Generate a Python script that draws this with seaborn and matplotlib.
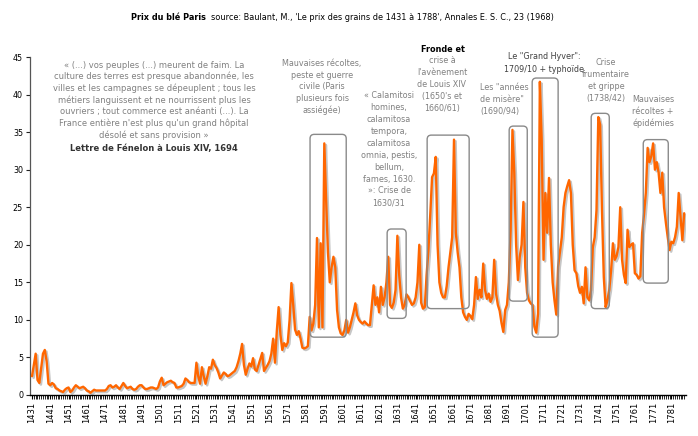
import numpy as np
import pandas as pd
import matplotlib
matplotlib.use("Agg")
import matplotlib.pyplot as plt
import matplotlib.transforms as mtransforms
from matplotlib.patches import FancyBboxPatch
import seaborn as sns

# ---------------- data ----------------
first_year = 1431
last_year = 1788
p1431 = [2.5, 4.0, 5.5, 2.0, 1.6, 3.5, 5.5, 6.0, 4.5, 1.5]
p1441 = [1.3, 1.6, 1.4, 0.9, 0.8, 0.6, 0.5, 0.4, 0.7, 0.9]
p1451 = [1.0, 0.4, 0.6, 1.0, 1.3, 1.1, 0.9, 1.0, 1.1, 0.9]
p1461 = [0.6, 0.5, 0.3, 0.5, 0.7, 0.6, 0.6, 0.6, 0.6, 0.6]
p1471 = [0.6, 0.8, 1.2, 1.3, 1.0, 1.1, 1.3, 1.0, 0.8, 1.2]
p1481 = [1.6, 1.2, 0.9, 1.0, 1.1, 0.8, 0.7, 0.8, 1.1, 1.3]
p1491 = [1.3, 1.0, 0.8, 0.8, 0.9, 1.0, 1.0, 0.9, 0.8, 1.0]
p1501 = [1.8, 2.3, 1.3, 1.5, 1.7, 1.8, 1.9, 1.7, 1.6, 1.0]
p1511 = [1.0, 1.1, 1.2, 1.5, 2.2, 2.0, 1.7, 1.6, 1.6, 1.6]
p1521 = [4.3, 2.5, 1.5, 3.7, 2.5, 1.5, 2.5, 3.7, 3.5, 4.7]
p1531 = [4.0, 3.6, 3.0, 2.2, 2.6, 3.0, 2.8, 2.5, 2.6, 2.8]
p1541 = [3.0, 3.2, 3.7, 4.5, 5.5, 6.8, 4.0, 2.7, 3.5, 4.2]
p1551 = [3.8, 4.9, 3.4, 3.2, 4.0, 4.8, 5.6, 3.2, 3.6, 4.0]
p1561 = [4.5, 5.5, 7.5, 4.3, 8.5, 11.7, 8.0, 6.0, 6.9, 6.5]
p1571 = [7.0, 10.0, 14.9, 12.0, 8.7, 8.0, 8.5, 7.5, 6.3, 6.2]
p1581 = [6.3, 6.5, 10.4, 8.6, 9.5, 12.0, 20.9, 9.0, 20.2, 9.0]
p1591 = [33.5, 26.0, 19.0, 15.0, 17.0, 18.4, 17.0, 11.3, 9.0, 8.2]
p1601 = [8.0, 8.6, 10.0, 8.3, 9.0, 10.0, 11.0, 12.2, 10.6, 10.0]
p1611 = [9.7, 9.5, 9.8, 9.5, 9.3, 9.3, 12.0, 14.6, 12.0, 13.0]
p1621 = [11.0, 14.4, 12.0, 13.0, 15.0, 18.4, 12.0, 11.6, 12.3, 14.0]
p1631 = [21.2, 16.0, 13.0, 11.5, 12.0, 13.4, 13.0, 12.5, 12.0, 12.2]
p1641 = [13.0, 15.0, 20.0, 12.3, 11.5, 11.7, 16.0, 19.3, 24.0, 29.0]
p1651 = [29.5, 31.7, 20.0, 15.0, 13.6, 13.0, 13.0, 14.5, 17.0, 19.0]
p1661 = [21.0, 34.0, 21.6, 19.0, 17.0, 13.0, 11.0, 10.4, 10.0, 10.8]
p1671 = [10.5, 10.1, 12.0, 15.7, 12.8, 14.0, 13.0, 17.5, 14.0, 12.8]
p1681 = [13.5, 12.4, 13.0, 18.0, 13.5, 12.0, 11.2, 9.6, 8.4, 11.3]
p1691 = [12.0, 15.0, 22.0, 35.3, 29.6, 20.0, 15.3, 18.4, 20.0, 25.7]
p1701 = [17.0, 13.6, 12.6, 12.2, 12.0, 9.1, 8.3, 10.8, 41.7, 34.0]
p1711 = [18.0, 26.9, 21.6, 28.9, 20.0, 15.0, 12.6, 10.7, 17.1, 19.0]
p1721 = [21.0, 25.0, 26.9, 27.8, 28.6, 26.9, 20.0, 16.6, 16.2, 14.5]
p1731 = [13.6, 14.4, 12.2, 17.0, 13.0, 12.6, 13.9, 19.7, 21.0, 24.6]
p1741 = [37.0, 36.0, 24.6, 15.7, 11.7, 12.6, 14.0, 16.6, 20.2, 18.0]
p1751 = [18.5, 19.7, 25.0, 18.0, 16.0, 14.9, 22.0, 19.7, 20.0, 20.2]
p1761 = [16.2, 16.0, 15.5, 15.8, 21.6, 24.0, 26.9, 32.9, 31.0, 31.8]
p1771 = [33.5, 30.0, 31.0, 29.6, 26.9, 29.6, 25.0, 22.9, 21.0, 19.3]
p1781 = [20.4, 20.2, 21.0, 22.4, 26.9, 23.7, 20.6, 24.2]

prices = (p1431 + p1441 + p1451 + p1461 + p1471 + p1481 + p1491 + p1501 +
          p1511 + p1521 + p1531 + p1541 + p1551 + p1561 + p1571 + p1581 +
          p1591 + p1601 + p1611 + p1621 + p1631 + p1641 + p1651 + p1661 +
          p1671 + p1681 + p1691 + p1701 + p1711 + p1721 + p1731 + p1741 +
          p1751 + p1761 + p1771 + p1781)
years = list(range(first_year, last_year + 1))
tick_years = list(range(1431, 1782, 10))
y_ticks = [0, 5, 10, 15, 20, 25, 30, 35, 40, 45]

df = pd.DataFrame({"annee": years, "prix": prices})

# crisis boxes: (x0, x1, y0, y1) in data units
boxes = [
    (1583.2, 1603.0, 7.7, 34.7),
    (1625.4, 1635.8, 10.2, 22.1),
    (1647.3, 1670.3, 11.5, 34.6),
    (1692.2, 1702.1, 12.5, 35.8),
    (1704.8, 1719.0, 7.7, 42.2),
    (1737.1, 1747.0, 11.5, 37.5),
    (1765.6, 1779.3, 14.9, 34.0),
]

title_bold = "Prix du blé Paris"
title_rest = "source: Baulant, M., 'Le prix des grains de 1431 à 1788', Annales E. S. C., 23 (1968)"

quote_lines = [
    "« (...) vos peuples (...) meurent de faim. La",
    "culture des terres est presque abandonnée, les",
    "villes et les campagnes se dépeuplent ; tous les",
    "métiers languissent et ne nourrissent plus les",
    "ouvriers ; tout commerce est anéanti (...). La",
    "France entière n'est plus qu'un grand hôpital",
    "désolé et sans provision »",
]
quote_author = "Lettre de Fénelon à Louis XIV, 1694"

ann1 = ["Mauvaises récoltes,", "peste et guerre", "civile (Paris", "plusieurs fois", "assiégée)"]
ann2 = ["« Calamitosi", "homines,", "calamitosa", "tempora,", "calamitosa",
        "omnia, pestis,", "bellum,", "fames, 1630.", "»: Crise de", "1630/31"]
ann3_head = "Fronde et"
ann3 = ["crise à", "l'avènement", "de Louis XIV", "(1650's et", "1660/61)"]
ann4 = ["Les \"années", "de misère\"", "(1690/94)"]
ann5 = ["Le \"Grand Hyver\":", "1709/10 + typhoïde"]
ann6 = ["Crise", "frumentaire", "et grippe", "(1738/42)"]
ann7 = ["Mauvaises", "récoltes +", "épidémies"]

# ---------------- figure ----------------
sns.set_theme(style="white")
plt.rcParams['font.family'] = ['DejaVu Sans']

W, H = 698, 436
fig = plt.figure(figsize=(W / 100, H / 100), dpi=100)
ax = fig.add_axes([30 / W, 1 - 395 / H, (686 - 30) / W, (395 - 57) / H])

shadow = mtransforms.offset_copy(ax.transData, fig=fig, x=1.6, y=-1.6, units='dots')
sns.lineplot(data=df, x="annee", y="prix", ax=ax, color="#c6c6c6", lw=1.8,
             transform=shadow, zorder=2)
sns.lineplot(data=df, x="annee", y="prix", ax=ax, color="#ff6600", lw=1.7, zorder=3)

ax.set_xlim(1429.9, 1789.0)
ax.set_ylim(0, 45)
ax.set_xlabel("")
ax.set_ylabel("")
ax.set_yticks(y_ticks)
ax.set_yticklabels([str(v) for v in y_ticks], fontsize=5.8)
ax.set_xticks(tick_years)
ax.set_xticklabels([str(v) for v in tick_years], rotation=90, fontsize=6)
ax.set_xticks(years, minor=True)
ax.tick_params(axis='y', which='major', direction='out', length=3, width=0.8,
               pad=2, left=True, color='#222222', labelcolor='black')
ax.tick_params(axis='x', which='major', direction='out', length=3, width=0.8,
               pad=2, bottom=True, color='black', labelcolor='black')
ax.tick_params(axis='x', which='minor', direction='out', length=3, width=0.6,
               bottom=True, color='black')
for s in ['top', 'right']:
    ax.spines[s].set_visible(False)
ax.spines['left'].set_color('#555555')
ax.spines['left'].set_linewidth(0.9)
ax.spines['bottom'].set_color('black')
ax.spines['bottom'].set_linewidth(1.0)
ax.grid(False)

for x0, x1, y0, y1 in boxes:
    ax.add_patch(FancyBboxPatch((x0, y0), x1 - x0, y1 - y0,
                                boxstyle="round,pad=0,rounding_size=2.3",
                                mutation_aspect=0.243, fc='none', ec='#8a8a8a',
                                lw=1.0, zorder=4))

def fx(px):
    return px / W

def fy(py):
    return 1 - py / H

GRAY = '#808080'
FS = 5.8

def lines(txt, x, y0, dy, ha='center', color=GRAY, weight='normal', fs=FS):
    for i, t in enumerate(txt):
        fig.text(fx(x), fy(y0 + i * dy), t, ha=ha, va='center', fontsize=fs,
                 color=color, fontweight=weight)

# title
fig.text(fx(206), fy(18), title_bold, ha='right', va='center', fontsize=5.9,
         fontweight='bold', color='black')
fig.text(fx(211), fy(18), title_rest, ha='left', va='center', fontsize=5.9,
         color='black')

# quote
lines(quote_lines, 154, 65, 11.7, fs=6.05)
lines([quote_author], 154, 148.3, 0, color='#333333', weight='bold', fs=6.0)

# annotations
lines(ann1, 322, 63.3, 11.85)
lines(ann2, 389, 95.7, 11.9)
lines([ann3_head], 443, 49, 0, color='black', weight='bold', fs=5.9)
lines(ann3, 442, 60.7, 11.9)
lines(ann4, 480, 87.7, 11.7, ha='left')
lines(ann5, 544, 56.7, 12.6, color='#404040')
lines(ann6, 606, 62.7, 11.9)
lines(ann7, 653, 100, 11.7)

fig.savefig("out.png", dpi=100, facecolor='white')
